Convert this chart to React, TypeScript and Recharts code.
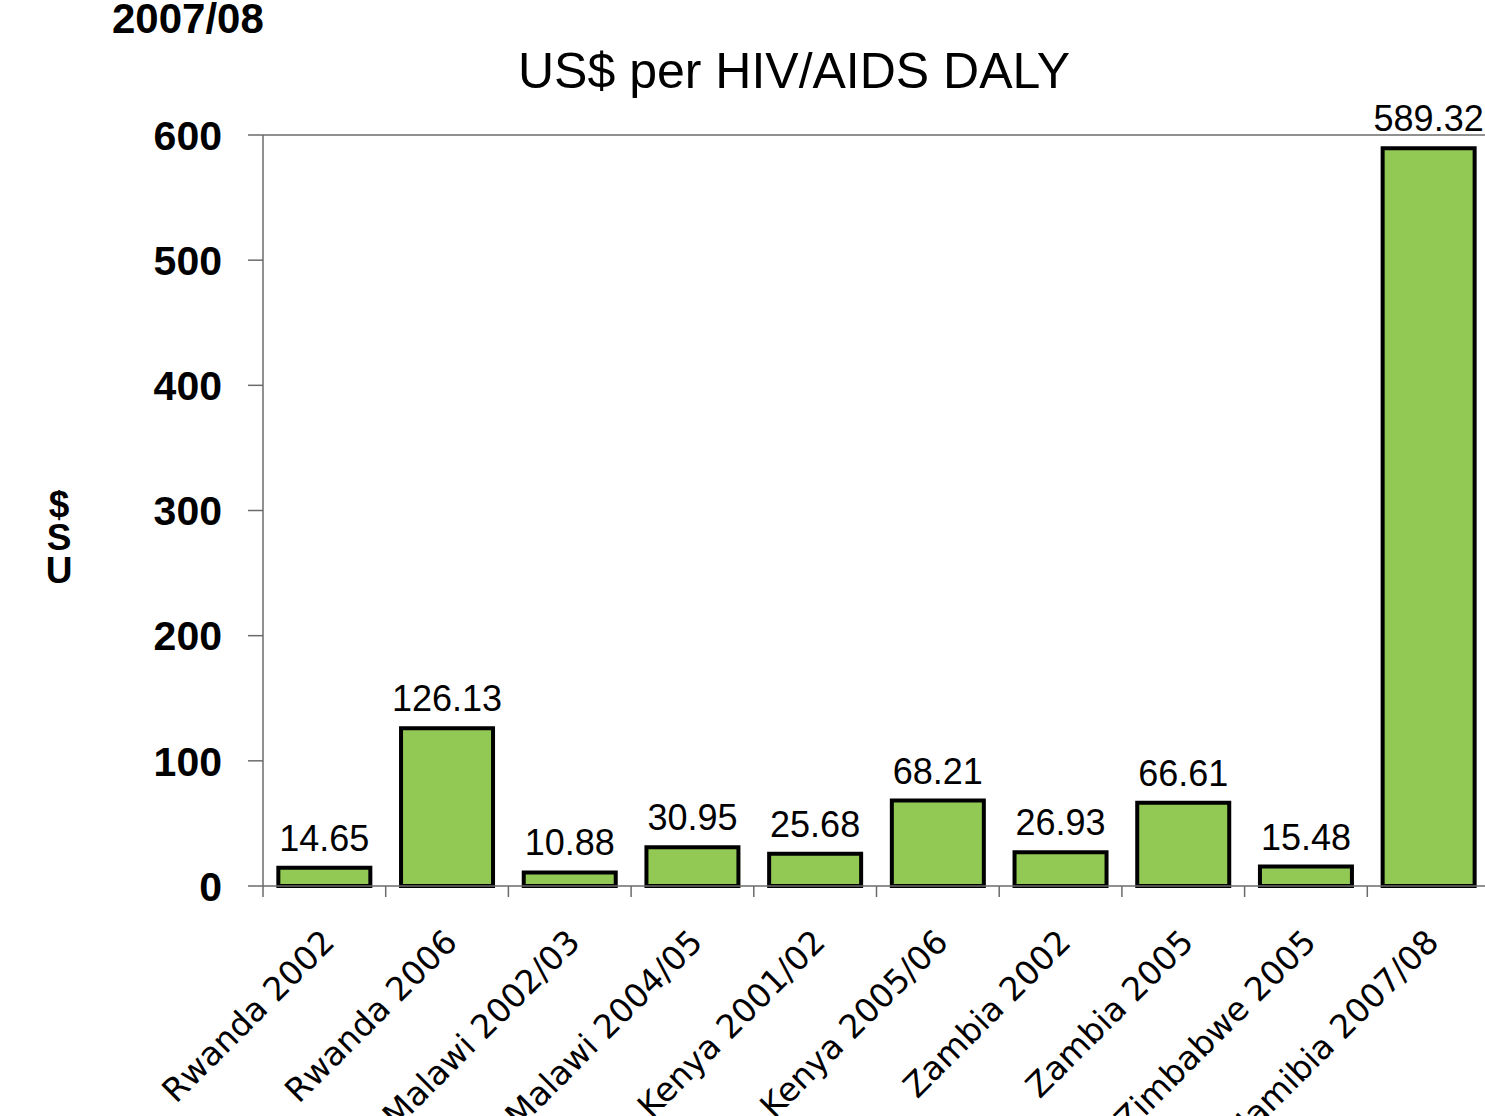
import React from 'react';
import { Bar, BarChart, LabelList, ReferenceLine, XAxis, YAxis } from 'recharts';

const categories = [
  'Rwanda 2002',
  'Rwanda 2006',
  'Malawi 2002/03',
  'Malawi 2004/05',
  'Kenya 2001/02',
  'Kenya 2005/06',
  'Zambia 2002',
  'Zambia 2005',
  'Zimbabwe 2005',
  'Namibia 2007/08',
];
const costPerDaly = [14.65, 126.13, 10.88, 30.95, 25.68, 68.21, 26.93, 66.61, 15.48, 589.32];
const yTicks = [0, 100, 200, 300, 400, 500, 600];
const title = 'US$ per HIV/AIDS DALY';
const corner = '2007/08';
const yLabel = 'US$';

const data = categories.map((name, i) => ({ name, value: costPerDaly[i] }));

const FONT = '"Liberation Sans", Arial, sans-serif';
const WIDE_FONT = '"DejaVu Sans", sans-serif';
const AXIS = '#6b6b6b';
const GREEN = '#92C955';

const YTick = ({ y, payload }: any) => (
  <text x={222} y={y} dy="0.36em" textAnchor="end" fontFamily={FONT} fontSize={41} fontWeight="bold" fill="#000">
    {payload.value}
  </text>
);

// label rotated up to the right, plus tick marks on the category boundaries
const CategoryTick = ({ x, y, payload, index, visibleTicksCount }: any) => {
  const half = payload.offset || 61.375;
  const last = index === visibleTicksCount - 1;
  return (
    <g>
      <line x1={x - half} x2={x - half} y1={y} y2={y + 11} stroke={AXIS} strokeWidth={1.5} />
      {last && <line x1={x + half} x2={x + half} y1={y} y2={y + 11} stroke={AXIS} strokeWidth={1.5} />}
      <g transform={`translate(${x + 12},${y + 58}) rotate(-45)`}>
        <text x={0} y={0} textAnchor="end" fontFamily={WIDE_FONT} fontSize={33} fill="#000">
          {payload.value}
        </text>
      </g>
    </g>
  );
};

export default function App() {
  return (
    <div style={{ position: 'absolute', left: 0, top: 0, width: 1485, height: 1116, overflow: 'hidden', background: '#fff' }}>
      <BarChart
        width={1500}
        height={1116}
        data={data}
        margin={{ top: 135, right: 10, bottom: 30, left: 0 }}
        barCategoryGap="12.5%"
      >
        <XAxis
          dataKey="name"
          interval={0}
          tickLine={false}
          axisLine={{ stroke: AXIS, strokeWidth: 1.5 }}
          tickSize={0}
          tickMargin={0}
          height={200}
          tick={<CategoryTick />}
        />
        <YAxis
          domain={[0, 600]}
          ticks={yTicks}
          width={263}
          tickSize={15}
          stroke={AXIS}
          strokeWidth={1.5}
          tick={<YTick />}
        />
        <ReferenceLine y={600} stroke={AXIS} strokeWidth={1.5} />
        <Bar dataKey="value" fill={GREEN} stroke="#000" strokeWidth={4} isAnimationActive={false}>
          <LabelList
            dataKey="value"
            position="top"
            offset={17}
            fill="#000"
            fontSize={36}
            fontFamily={FONT}
            formatter={(v: any) => Number(v).toFixed(2)}
          />
        </Bar>
      </BarChart>

      {/* title, corner caption and the stacked y label */}
      <svg width={1485} height={1116} style={{ position: 'absolute', left: 0, top: 0, pointerEvents: 'none' }}>
        <text x={112} y={33} fontFamily={FONT} fontSize={42} fontWeight="bold" fill="#000">
          {corner}
        </text>
        <text x={794} y={88} textAnchor="middle" fontFamily={FONT} fontSize={50} fill="#000">
          {title}
        </text>
        <text textAnchor="middle" fontFamily={FONT} fontSize={37} fontWeight="bold" fill="#000">
          {yLabel
            .split('')
            .reverse()
            .map((ch, i) => (
              <tspan key={i} x={59} y={517 + i * 33}>
                {ch}
              </tspan>
            ))}
        </text>
      </svg>
    </div>
  );
}
